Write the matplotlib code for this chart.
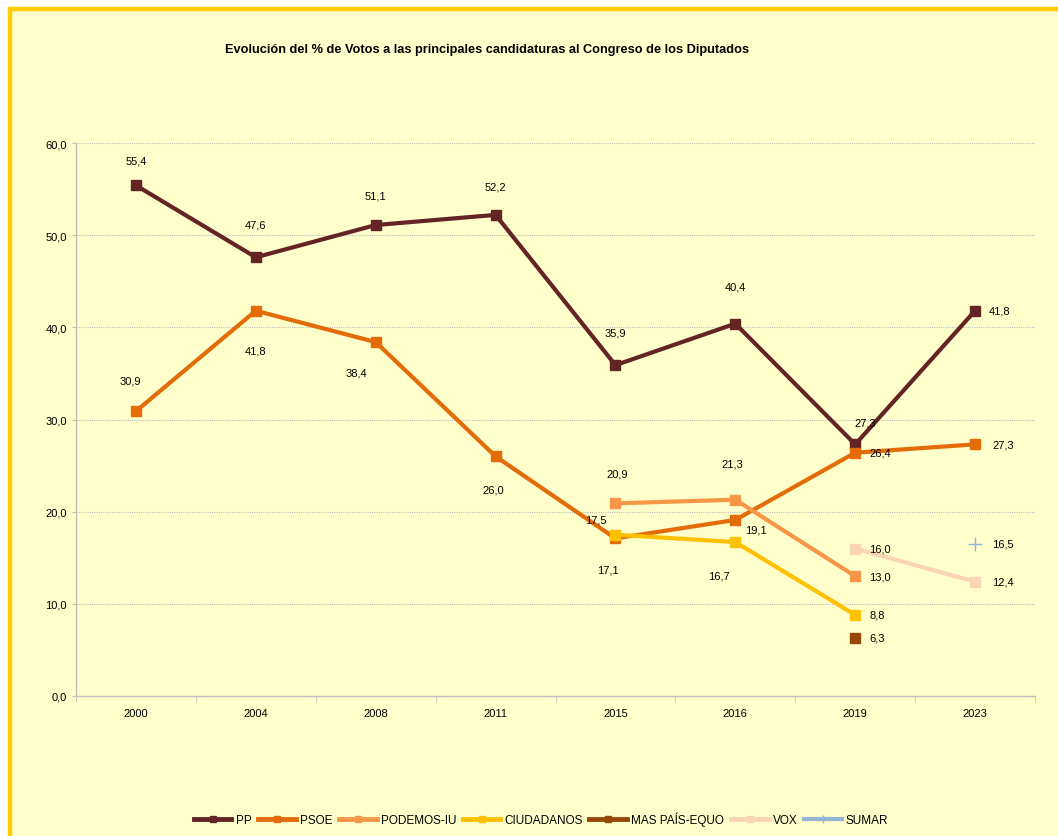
import numpy as np
import matplotlib
matplotlib.use("Agg")
import matplotlib.pyplot as plt
from matplotlib.patches import Rectangle
from matplotlib.lines import Line2D

plt.rcParams['font.family'] = ['Liberation Sans', 'DejaVu Sans']

years = ["2000", "2004", "2008", "2011", "2015", "2016", "2019", "2023"]
nan = np.nan
pp = [55.4, 47.6, 51.1, 52.2, 35.9, 40.4, 27.3, 41.8]
psoe = [30.9, 41.8, 38.4, 26.0, 17.1, 19.1, 26.4, 27.3]
podemos = [nan, nan, nan, nan, 20.9, 21.3, 13.0, nan]
ciudadanos = [nan, nan, nan, nan, 17.5, 16.7, 8.8, nan]
maspais = [nan, nan, nan, nan, nan, nan, 6.3, nan]
vox = [nan, nan, nan, nan, nan, nan, 16.0, 12.4]
sumar = [nan, nan, nan, nan, nan, nan, nan, 16.5]
y_ticks = [0, 10, 20, 30, 40, 50, 60]

series = [
    ("PP", pp, "#632423", "s"),
    ("PSOE", psoe, "#E36C09", "s"),
    ("PODEMOS-IU", podemos, "#F79646", "s"),
    ("CIUDADANOS", ciudadanos, "#FFC000", "s"),
    ("MAS PAÍS-EQUO", maspais, "#974806", "s"),
    ("VOX", vox, "#FBD4B4", "s"),
    ("SUMAR", sumar, "#95B3D7", "+"),
]

# label offsets in pixels (dx, dy, ha) relative to the point, per series
R = (14, 0, "left")
label_offsets = {
    "PP": [(0, 25, "center"), (0, 33, "center"), (0, 30, "center"), (0, 28, "center"),
           (0, 33, "center"), (0, 37, "center"), (10, 22, "center"), R],
    "PSOE": [(-6, 31, "center"), (0, -40, "center"), (-19, -30, "center"),
             (-2, -33, "center"), (-8, -31, "center"), (10, -10, "left"), R,
             (17, 0, "left")],
    "PODEMOS-IU": [None] * 4 + [(2, 30, "center"), (-3, 36, "center"), R, None],
    "CIUDADANOS": [None] * 4 + [(-20, 15, "center"), (-16, -33, "center"), R, None],
    "MAS PAÍS-EQUO": [None] * 6 + [R, None],
    "VOX": [None] * 6 + [R, (17, 0, "left")],
    "SUMAR": [None] * 7 + [(17, 0, "left")],
}

W, H = 1058, 837
fig = plt.figure(figsize=(W / 100, H / 100), dpi=100)
fig.patch.set_facecolor("white")
fig.patches.append(Rectangle((10 / W, -0.05), 1.2, (H - 10) / H + 0.05,
                             transform=fig.transFigure, facecolor="#FFFFCC",
                             edgecolor="#FFCC00", linewidth=3.2, zorder=-10))

ax = fig.add_axes([76 / W, 1 - 697 / H, (1035 - 76) / W, (697 - 144) / H])
ax.set_facecolor("none")
x = np.arange(len(years))

for name, vals, color, mk in series:
    v = np.array(vals, dtype=float)
    if mk == "+":
        ax.plot(x, v, color=color, marker="+", markersize=10, markeredgewidth=1.0,
                linewidth=3, label=name, clip_on=False)
    else:
        ax.plot(x, v, color=color, marker="s", markersize=6.5, linewidth=3,
                label=name, clip_on=False, zorder=3)
    for i, val in enumerate(v):
        off = label_offsets[name][i]
        if off is None or np.isnan(val):
            continue
        dx, dy, ha = off
        ax.annotate(f"{val:.1f}".replace(".", ","), (x[i], val),
                    xytext=(dx * 0.72, dy * 0.72), textcoords="offset points",
                    ha=ha, va="center", fontsize=8, color="black", zorder=5)

ax.set_xlim(-0.5, len(years) - 0.5)
ax.set_ylim(0, 60)
ax.set_yticks(y_ticks)
ax.set_yticklabels([f"{t:.1f}".replace(".", ",") for t in y_ticks], fontsize=8)
ax.set_xticks(x)
ax.set_xticklabels(years, fontsize=8)
ax.set_xticks(np.arange(-0.5, len(years), 1), minor=True)
ax.tick_params(axis="x", which="major", length=0, pad=9)
ax.tick_params(axis="x", which="minor", length=4, color="#BFBFBF")
ax.tick_params(axis="y", length=3, color="#BFBFBF", pad=3.5)
for s in ["top", "right"]:
    ax.spines[s].set_visible(False)
for s in ["left", "bottom"]:
    ax.spines[s].set_color("#BFBFBF")
    ax.spines[s].set_linewidth(1)
ax.yaxis.grid(True, linestyle=(0, (1, 1)), color="#BFBFBF", linewidth=0.8)
ax.set_axisbelow(True)

fig.text(487 / W, 1 - 50 / H,
         "Evolución del % de Votos a las principales candidaturas al Congreso de los Diputados",
         ha="center", va="center", fontsize=9.2, fontweight="bold")

handles = []
for name, vals, color, mk in series:
    if mk == "+":
        handles.append(Line2D([], [], color=color, linewidth=3, marker="|",
                              markersize=6, markeredgewidth=1, label=name))
    else:
        handles.append(Line2D([], [], color=color, linewidth=3.5, marker="s",
                              markersize=4, label=name))
fig.legend(handles=handles, loc="center", bbox_to_anchor=(541 / W, 1 - 820 / H),
           ncol=7, frameon=False, fontsize=8.5, handlelength=3.2,
           handletextpad=0.35, columnspacing=0.55)

fig.savefig("out.png", dpi=100, facecolor=fig.get_facecolor())
